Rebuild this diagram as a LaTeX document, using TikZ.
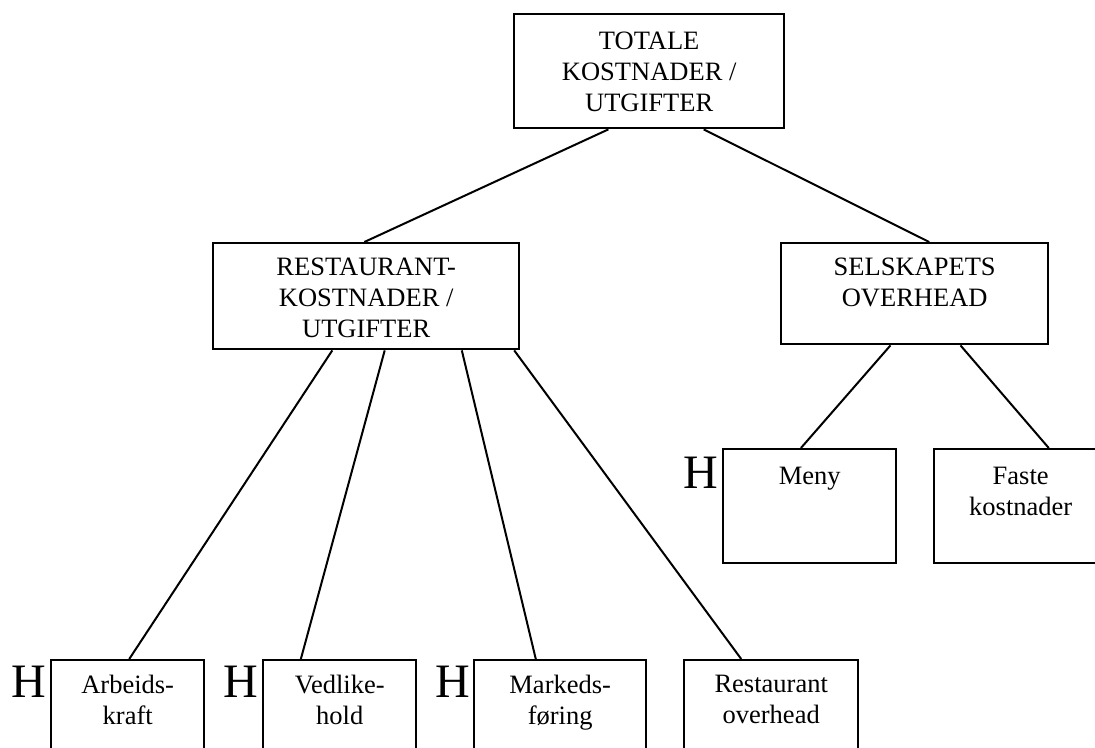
\documentclass[tikz,border=0pt]{standalone}
\usepackage{fontspec}
\setmainfont{Liberation Serif}
\usetikzlibrary{calc}
\tikzset{
  box/.style={draw, line width=2.4pt, anchor=north west, inner sep=0pt},
  lbl/.style={anchor=north, inner sep=0pt, align=center,
    font=\fontsize{26.5}{31}\selectfont},
  hsign/.style={anchor=base east, inner sep=0pt, font=\fontsize{48}{48}\selectfont},
  link/.style={line width=2pt}
}
\begin{document}
\begin{tikzpicture}[x=1pt,y=-1pt]
\useasboundingbox (0,0) rectangle (1095,747);
\clip (0,0) rectangle (1095,747);
% boxes
\node[box, minimum width=270pt, minimum height=114pt] (top) at (513,13) {};
\node[box, minimum width=306pt, minimum height=106pt] (rest) at (212,242) {};
\node[box, minimum width=267pt, minimum height=101pt] (sels) at (780,242) {};
\node[box, minimum width=173pt, minimum height=114pt] (meny) at (722,448) {};
\node[box, minimum width=173pt, minimum height=114pt] (faste) at (933,448) {};
\node[box, minimum width=153pt, minimum height=110pt] (arb) at (50,659) {};
\node[box, minimum width=153pt, minimum height=110pt] (ved) at (262,659) {};
\node[box, minimum width=172pt, minimum height=110pt] (mkt) at (473,659) {};
\node[box, minimum width=174pt, minimum height=110pt] (ro) at (683,659) {};
% labels
\node[lbl] (ttop) at ($(top.north)+(0,19)$) {TOTALE\\KOSTNADER /\\UTGIFTER};
\node[lbl] (trest) at ($(rest.north)+(0,16)$) {RESTAURANT-\\KOSTNADER /\\UTGIFTER};
\node[lbl] (tsels) at ($(sels.north)+(0,16)$) {SELSKAPETS\\OVERHEAD};
\node[lbl] (tmeny) at ($(meny.north)+(0,19)$) {Meny};
\node[lbl] (tfaste) at ($(faste.north)+(0,19)$) {Faste\\kostnader};
\node[lbl] (tarb) at ($(arb.north)+(0,16)$) {Arbeids-\\kraft};
\node[lbl] (tved) at ($(ved.north)+(0,16)$) {Vedlike-\\hold};
\node[lbl] (tmkt) at ($(mkt.north)+(0,16)$) {Markeds-\\føring};
\node[lbl] (tro) at ($(ro.north)+(0,16)$) {Restaurant\\overhead};
% H signs
\node[hsign] (hmeny) at ($(meny.north west)+(-4,40)$) {H};
\node[hsign] (harb) at ($(arb.north west)+(-4,38)$) {H};
\node[hsign] (hved) at ($(ved.north west)+(-4,38)$) {H};
\node[hsign] (hmkt) at ($(mkt.north west)+(-3,38)$) {H};
% connectors
\draw[link] ($(top.south west)!0.35!(top.south east)$) -- ($(rest.north west)!0.494!(rest.north east)$);
\draw[link] ($(top.south west)!0.70!(top.south east)$) -- ($(sels.north west)!0.554!(sels.north east)$);
\draw[link] ($(rest.south west)!0.39!(rest.south east)$) -- ($(arb.north west)!0.51!(arb.north east)$);
\draw[link] ($(rest.south west)!0.56!(rest.south east)$) -- ($(ved.north west)!0.25!(ved.north east)$);
\draw[link] ($(rest.south west)!0.81!(rest.south east)$) -- ($(mkt.north west)!0.36!(mkt.north east)$);
\draw[link] ($(rest.south west)!0.98!(rest.south east)$) -- ($(ro.north west)!0.33!(ro.north east)$);
\draw[link] ($(sels.south west)!0.41!(sels.south east)$) -- ($(meny.north west)!0.45!(meny.north east)$);
\draw[link] ($(sels.south west)!0.67!(sels.south east)$) -- ($(faste.north west)!0.66!(faste.north east)$);
\end{tikzpicture}
\end{document}
